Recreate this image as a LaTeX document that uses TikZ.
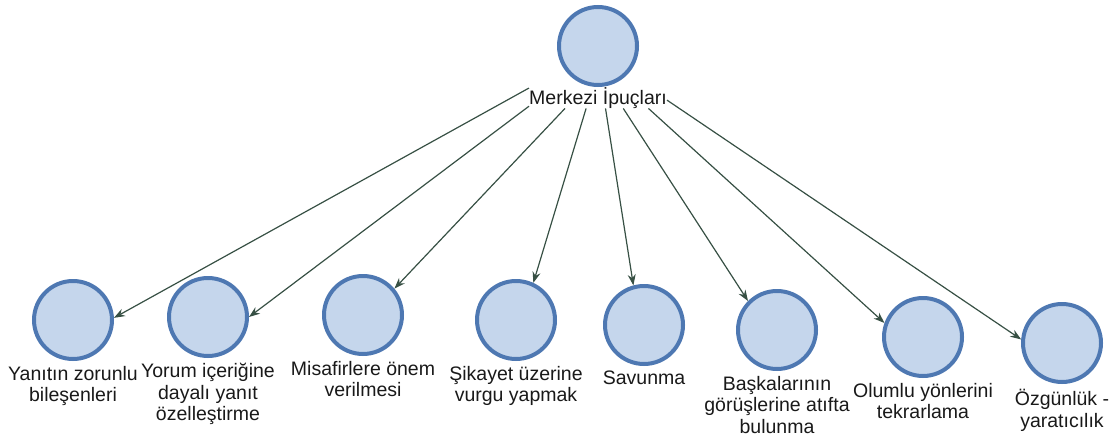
\documentclass[tikz,border=0pt]{standalone}
\usepackage{fontspec}
\setmainfont{Liberation Sans}
\usetikzlibrary{positioning, arrows.meta}
\definecolor{ballfill}{RGB}{197,214,236}
\definecolor{balledge}{RGB}{78,120,178}
\definecolor{linkgreen}{RGB}{55,80,68}
\definecolor{labelgray}{RGB}{25,25,25}

\begin{document}
\begin{tikzpicture}[x = 1pt, y = -1pt,
  ball/.style = {circle, draw = balledge, fill = ballfill, line width = 4pt, minimum size = 78pt, inner sep = 0pt},
  caption/.style = {align = center, inner sep = 0pt, text = labelgray, font = \fontsize{19.5}{21.5}\selectfont},
  link/.style = {draw = linkgreen, line width = 1.2pt, -{Stealth[length = 11pt, width = 8pt]}}]
\useasboundingbox (0, 0) rectangle (1115, 441);
% Top node
\node[ball] (c0) at (598, 46) {};
\node[caption, below = 0pt of c0] (m) {Merkezi İpuçları};
% Bottom nodes
\node[ball] (c1) at (73, 320) {};
\node[ball] (c2) at (208, 317) {};
\node[ball] (c3) at (363, 315) {};
\node[ball] (c4) at (516, 320) {};
\node[ball] (c5) at (644, 325) {};
\node[ball] (c6) at (777, 330) {};
\node[ball] (c7) at (923, 337) {};
\node[ball] (c8) at (1062, 343) {};
% Captions
\node[caption, below = 5pt of c1] (l1) {Yanıtın zorunlu\\bileşenleri};
\node[caption, below = 5pt of c2] (l2) {Yorum içeriğine\\dayalı yanıt\\özelleştirme};
\node[caption, below = 5pt of c3] (l3) {Misafirlere önem\\verilmesi};
\node[caption, below = 5pt of c4] (l4) {Şikayet üzerine\\vurgu yapmak};
\node[caption, below = 5pt of c5] (l5) {Savunma};
\node[caption, below = 5pt of c6] (l6) {Başkalarının\\görüşlerine atıfta\\bulunma};
\node[caption, below = 5pt of c7] (l7) {Olumlu yönlerini\\tekrarlama};
\node[caption, below = 5pt of c8] (l8) {Özgünlük -\\yaratıcılık};
% Links
\draw[link] (m.172) -- (c1.3);
\draw[link] (m.187) -- (c2.east);
\draw[link] (m.198) -- (c3.40);
\draw[link] (m.222) -- (c4.65);
\draw[link] (m.305) -- (c5.105);
\draw[link] (m.337) -- (c6.135);
\draw[link] (m.348) -- (c7.160);
\draw[link] (m.358) -- (c8.175);
\end{tikzpicture}
\end{document}
